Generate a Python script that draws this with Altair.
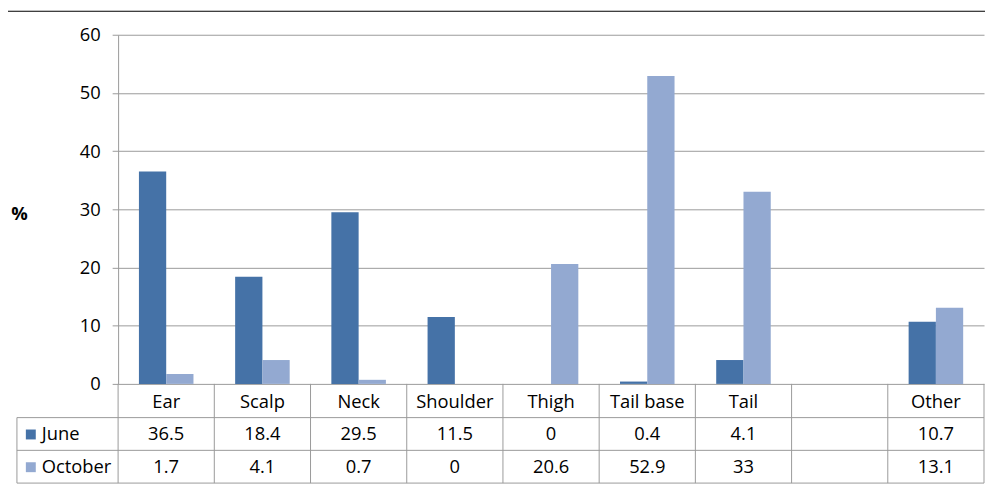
import altair as alt
import pandas as pd

categories = ["Ear", "Scalp", "Neck", "Shoulder", "Thigh", "Tail base", "Tail", " ", "Other"]
june = [36.5, 18.4, 29.5, 11.5, 0, 0.4, 4.1, None, 10.7]
october = [1.7, 4.1, 0.7, 0, 20.6, 52.9, 33, None, 13.1]
series = ["June", "October"]
colors = ["#4572A7", "#93A9D1"]
y_ticks = [0, 10, 20, 30, 40, 50, 60]


def fmt(v):
    return "" if v is None else f"{v:g}"


rows = []
for c, j, o in zip(categories, june, october):
    rows.append({"cat": c, "series": "June", "val": j, "label": fmt(j)})
    rows.append({"cat": c, "series": "October", "val": o, "label": fmt(o)})
df = pd.DataFrame(rows)
one = pd.DataFrame({"a": [0]})

W, H = 873, 352
FONT = "Open Sans"
FS = 18.5
GRAY = "#9a9a9a"

xcat = alt.X("cat:N", sort=categories,
             scale=alt.Scale(paddingInner=0, paddingOuter=0), axis=None)

bars = alt.Chart(df).transform_filter("isValid(datum.val)").mark_bar().encode(
    x=xcat,
    xOffset=alt.XOffset("series:N", sort=series,
                        scale=alt.Scale(paddingInner=0, paddingOuter=0.764)),
    y=alt.Y("val:Q", scale=alt.Scale(domain=[0, 60], nice=False),
            axis=alt.Axis(values=y_ticks, grid=True, gridColor=GRAY, domainColor=GRAY,
                          tickColor=GRAY, tickSize=6, labelPadding=12, labelFontSize=FS,
                          labelFont=FONT, labelColor="#000", title="%", titleAngle=0,
                          titleX=-100, titleY=180, titleAlign="center",
                          titleBaseline="middle", titleFontSize=FS, titleFont=FONT,
                          titleFontWeight="bold", titleColor="#000")),
    color=alt.Color("series:N", scale=alt.Scale(domain=series, range=colors), legend=None),
)

layers = [bars]

# table header (category names)
layers.append(
    alt.Chart(df).transform_filter("datum.series == 'June'").mark_text(
        font=FONT, fontSize=FS, color="#000", baseline="middle"
    ).encode(x=xcat, y=alt.value(370), text="cat:N")
)

row_y = {"June": 403, "October": 436}
for s, col in zip(series, colors):
    layers.append(
        alt.Chart(df).transform_filter(f"datum.series == '{s}'").mark_text(
            font=FONT, fontSize=FS, color="#000", baseline="middle"
        ).encode(x=xcat, y=alt.value(row_y[s]), text="label:N")
    )
    layers.append(
        alt.Chart(one).mark_square(size=100, color=col, opacity=1).encode(
            x=alt.value(-88), y=alt.value(row_y[s])
        )
    )
    layers.append(
        alt.Chart(pd.DataFrame({"name": [s]})).mark_text(
            font=FONT, fontSize=FS, color="#000", baseline="middle", align="left"
        ).encode(x=alt.value(-77), y=alt.value(row_y[s]), text="name:N")
    )

# table lines
for yv in [386, 419, 452]:
    layers.append(
        alt.Chart(one).mark_rule(color=GRAY, strokeWidth=1).encode(
            x=alt.value(-102), x2=alt.value(W), y=alt.value(yv)
        )
    )
layers.append(
    alt.Chart(one).mark_rule(color=GRAY, strokeWidth=1).encode(
        x=alt.value(-102), y=alt.value(386), y2=alt.value(452)
    )
)
layers.append(
    alt.Chart(one).mark_rule(color=GRAY, strokeWidth=1).encode(
        x=alt.value(W), y=alt.value(H), y2=alt.value(452)
    )
)
layers.append(
    alt.Chart(df).transform_filter("datum.series == 'June'").mark_rule(
        color=GRAY, strokeWidth=1
    ).encode(
        x=alt.X("cat:N", sort=categories, scale=alt.Scale(paddingInner=0, paddingOuter=0),
                axis=None, bandPosition=0),
        y=alt.value(H), y2=alt.value(452)
    )
)
# top black rule
layers.append(
    alt.Chart(one).mark_rule(color="#000", strokeWidth=1.2).encode(
        x=alt.value(-111), x2=alt.value(W + 1), y=alt.value(-23.7)
    )
)

chart = alt.layer(*layers).properties(
    width=W, height=H,
    autosize=alt.AutoSizeParams(type="none"),
    padding={"left": 111, "top": 25, "right": 1, "bottom": 104},
).configure_view(strokeWidth=0)

chart.save("out.html", embed_options={"renderer": "svg", "actions": False})
